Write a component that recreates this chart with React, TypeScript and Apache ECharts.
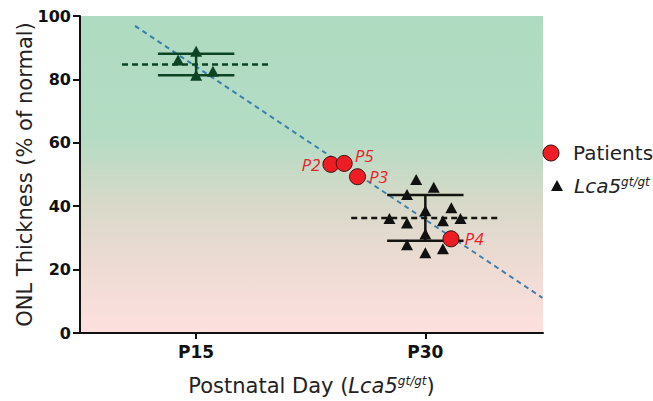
import React, { useEffect, useRef } from "react";
import * as echarts from "echarts";

// P15 mice (day jitter, ONL %)
const p15X = [13.82, 15.0, 16.1, 15.0];
const p15Y = [86.1, 88.9, 82.6, 81.3];
// P30 mice
const p30X = [29.4, 30.55, 28.8, 31.7, 30.0, 27.65, 28.8, 31.15, 32.3, 30.0, 28.8, 30.0, 31.15];
const p30Y = [48.4, 46.0, 43.7, 39.5, 38.6, 36.1, 34.7, 35.4, 36.1, 31.2, 27.8, 25.3, 26.6];
// Patients
const patientNames = ["P2", "P5", "P3", "P4"];
const patientX = [23.82, 24.69, 25.56, 31.68];
const patientY = [53.2, 53.5, 49.3, 29.7];
// Group summaries (mean, SD)
const groupDays = [15, 30];
const groupMeans = [84.7, 36.3];
const groupSDs = [3.4, 7.2];
// Trend line endpoints
const trendX = [11.0, 37.66];
const trendY = [96.9, 11.1];
const xTickValues = [15, 30];
const legendNames = ["Patients", "Lca5"];

const FONT = "DejaVu Sans";

export default function App() {
  const ref = useRef<HTMLDivElement>(null);
  useEffect(() => {
    if (!ref.current) return;
    const chart = echarts.init(ref.current, null, { renderer: "svg" });
    const groupColors = ["#0d4424", "#141410"];
    const labelPos: any[] = [
      { position: "left", distance: 2 },
      { position: "right", distance: 2, offset: [0, -8] },
      { position: "right", distance: 3 },
      { position: "right", distance: 5 },
    ];
    const summaryData = groupDays.map((d, i) => [d, groupMeans[i], groupSDs[i], i]);
    const supRich = {
      n: { fontFamily: FONT, fontSize: 21, color: "#222" },
      i: { fontFamily: FONT, fontSize: 21, fontStyle: "italic", color: "#222" },
      s: {
        fontFamily: FONT,
        fontSize: 12,
        fontStyle: "italic",
        color: "#222",
        verticalAlign: "top",
        padding: [0, 0, 9, 0],
      },
    };
    const option: any = {
      animation: false,
      grid: {
        left: 80,
        right: 110,
        top: 16,
        bottom: 68,
        outerBoundsMode: "none",
        containLabel: false,
        show: true,
        borderWidth: 0,
        backgroundColor: new echarts.graphic.LinearGradient(0, 0, 0, 1, [
          { offset: 0, color: "#aedbc1" },
          { offset: 0.38, color: "#b4dcc4" },
          { offset: 0.58, color: "#d6d9c8" },
          { offset: 0.78, color: "#eddbd3" },
          { offset: 1, color: "#fde0df" },
        ]),
      },
      graphic: [
        {
          type: "circle",
          shape: { cx: 551, cy: 153, r: 8 },
          style: { fill: "#ee1c25", stroke: "#3a1010", lineWidth: 1 },
        },
        {
          type: "text",
          x: 573,
          y: 153,
          style: { text: legendNames[0], font: `20px "${FONT}"`, fill: "#222", verticalAlign: "middle" },
        },
        {
          type: "polygon",
          shape: { points: [[557, 180], [563, 191], [551, 191]] },
          style: { fill: "#111" },
        },
        {
          type: "text",
          x: 574,
          y: 186,
          style: {
            text: "{i|" + legendNames[1] + "}{s|gt/gt}",
            verticalAlign: "middle",
            rich: {
              i: { fontFamily: FONT, fontSize: 20, fontStyle: "italic", fill: "#222" },
              s: { fontFamily: FONT, fontSize: 12, fontStyle: "italic", fill: "#222", verticalAlign: "top", padding: [0, 0, 9, 0] },
            },
          },
        },
      ],
      xAxis: {
        type: "value",
        min: 7.4,
        max: 37.7,
        splitLine: { show: false },
        axisLine: { show: true, lineStyle: { color: "#111", width: 2 } },
        axisTick: { show: true, customValues: xTickValues, length: 6, lineStyle: { color: "#111", width: 2 } },
        axisLabel: {
          customValues: xTickValues,
          formatter: (v: number) => "P" + v,
          fontFamily: FONT,
          fontWeight: "bold",
          fontSize: 17,
          color: "#111",
          margin: 10,
        },
        name: "{n|Postnatal Day (}{i|Lca5}{s|gt/gt}{n|)}",
        nameLocation: "middle",
        nameGap: 42,
        nameMoveOverlap: false,
        nameTextStyle: { rich: supRich },
      },
      yAxis: {
        type: "value",
        min: 0,
        max: 100,
        interval: 20,
        splitLine: { show: false },
        axisLine: { show: true, lineStyle: { color: "#111", width: 2 } },
        axisTick: { show: true, length: 7, lineStyle: { color: "#111", width: 2 } },
        axisLabel: {
          fontFamily: FONT,
          fontWeight: "bold",
          fontSize: 16,
          color: "#111",
          margin: 9,
        },
        name: "ONL Thickness (% of normal)",
        nameLocation: "middle",
        nameGap: 45,
        nameMoveOverlap: false,
        nameTextStyle: { fontFamily: FONT, fontSize: 21, color: "#222" },
      },
      series: [
        {
          type: "line",
          name: "trend",
          data: trendX.map((x, i) => [x, trendY[i]]),
          symbol: "none",
          lineStyle: { color: "#3a7eae", width: 2, type: [5, 4] },
          z: 3,
          silent: true,
        },
        {
          type: "custom",
          name: "summary",
          data: summaryData,
          renderItem: (params: any, api: any) => {
            const d = api.value(0);
            const m = api.value(1);
            const sd = api.value(2);
            const gi = api.value(3);
            const col = groupColors[gi];
            const pL = api.coord([d - 4.85, m]);
            const pR = api.coord([d + 4.85, m]);
            const hiL = api.coord([d - 2.5, m + sd]);
            const hiR = api.coord([d + 2.5, m + sd]);
            const loL = api.coord([d - 2.5, m - sd]);
            const loR = api.coord([d + 2.5, m - sd]);
            const c = api.coord([d, m]);
            const solid = { stroke: col, lineWidth: 2.5 };
            return {
              type: "group",
              children: [
                { type: "line", shape: { x1: pL[0], y1: pL[1], x2: pR[0], y2: pR[1] }, style: { stroke: col, lineWidth: 2.5, lineDash: [6, 4] } },
                { type: "line", shape: { x1: hiL[0], y1: hiL[1], x2: hiR[0], y2: hiR[1] }, style: solid },
                { type: "line", shape: { x1: loL[0], y1: loL[1], x2: loR[0], y2: loR[1] }, style: solid },
                { type: "line", shape: { x1: c[0], y1: hiL[1], x2: c[0], y2: loL[1] }, style: solid },
              ],
            };
          },
          z: 4,
          silent: true,
        },
        {
          type: "scatter",
          name: "Lca5",
          symbol: "triangle",
          symbolSize: [12, 11],
          itemStyle: { color: "#111", opacity: 1 },
          data: p30X.map((x, i) => [x, p30Y[i]]),
          z: 5,
        },
        {
          type: "scatter",
          name: "p15",
          symbol: "triangle",
          symbolSize: [12, 11],
          itemStyle: { color: groupColors[0], opacity: 1 },
          data: p15X.map((x, i) => [x, p15Y[i]]),
          z: 5,
        },
        {
          type: "scatter",
          name: "Patients",
          symbol: "circle",
          symbolSize: 16,
          itemStyle: { color: "#ee1c25", borderColor: "#3a1010", borderWidth: 1, opacity: 1 },
          data: patientX.map((x, i) => ({
            value: [x, patientY[i]],
            name: patientNames[i],
            label: {
              show: true,
              formatter: patientNames[i],
              color: "#e8212a",
              fontFamily: "Open Sans",
              fontStyle: "italic",
              fontSize: 17,
              ...labelPos[i],
            },
          })),
          z: 6,
        },
      ],
    };
    chart.setOption(option);
    return () => chart.dispose();
  }, []);
  return <div ref={ref} style={{ width: 653, height: 401, position: "absolute", left: 0, top: 0 }} />;
}
